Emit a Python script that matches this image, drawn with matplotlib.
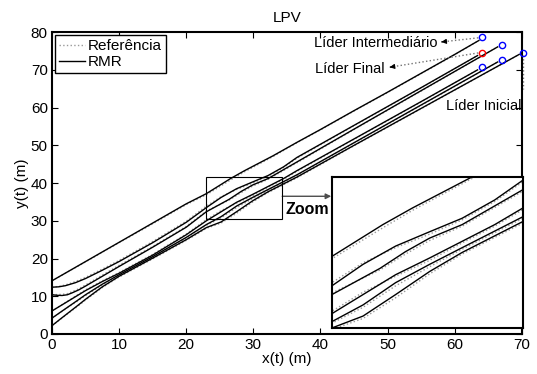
import matplotlib
matplotlib.use('Agg')
import matplotlib.pyplot as plt
from matplotlib.patches import Rectangle

plt.rcParams['font.family'] = ['Liberation Sans', 'DejaVu Sans']

# ---------------- data ----------------
# RMR trajectories (solid)
l1_x = [0, 5, 10, 15, 20, 23, 26.6, 28.7, 32.9, 36.5, 40, 45, 50, 55, 60, 63.6]
l1_y = [14.1, 19.2, 24.3, 29.4, 34.5, 37.2, 41.2, 43.3, 47.2, 50.8, 54.2, 59.2, 64.1, 69.1, 74.1, 77.8]

l2_x = [0, 1, 2, 3.5, 5, 7.5, 10, 15, 20, 23, 25.2, 27.5, 29.9, 32.2, 34.5, 36.5, 45, 55, 63.4]
l2_y = [12.4, 12.5, 12.8, 13.6, 14.7, 16.9, 19.2, 24.2, 29.6, 33.5, 36.2, 38.5, 40.3, 42.0, 44.3, 46.8, 55.3, 65.3, 73.8]

l3_x = [0, 0.8, 1.5, 2.3, 3, 4, 5, 7.5, 10, 15, 20, 23, 26.4, 28.2, 29.9, 32.2, 36.5, 45, 55, 66.4]
l3_y = [10.4, 10.25, 10.2, 10.4, 10.9, 11.7, 12.7, 15.3, 17.9, 23.0, 28.3, 32.4, 35.7, 37.8, 39.5, 41.2, 45.6, 54.3, 64.5, 76.1]

l4_x = [0, 2.5, 5, 7.5, 10, 15, 20, 23, 25.2, 27.5, 29.9, 32.2, 34.5, 36.5, 45, 55, 63.4]
l4_y = [6.1, 8.8, 11.5, 13.9, 16.1, 20.9, 26.3, 30.0, 32.4, 34.9, 37.0, 39.1, 41.2, 43.3, 51.7, 61.6, 70.0]

l5_x = [0, 1.2, 2.5, 3.8, 5, 7.5, 10, 15, 20, 23, 25.2, 27.5, 29.9, 32.2, 36.5, 45, 55, 66.4]
l5_y = [4.2, 5.7, 7.3, 8.9, 10.4, 13.2, 15.7, 20.5, 25.6, 29.0, 31.1, 33.9, 36.2, 38.3, 42.2, 50.7, 60.7, 72.1]

l6_x = [0, 1.2, 2.5, 3.8, 5, 7.5, 10, 15, 20, 23, 25.2, 27.5, 29.9, 32.2, 36.5, 45, 55, 69.6]
l6_y = [2.2, 3.9, 5.7, 7.5, 9.2, 12.5, 15.3, 20.1, 25.0, 28.2, 29.7, 32.4, 35.3, 37.7, 41.6, 50.0, 59.8, 74.1]

# Reference trajectories (dotted)
r1_y = [14.1, 19.1, 24.2, 29.2, 34.3, 36.9, 40.8, 43.0, 47.0, 50.7, 54.1, 59.1, 64.0, 69.0, 74.0, 77.8]
r2_y = [12.4, 12.6, 13.0, 13.9, 15.0, 17.2, 19.5, 24.5, 29.9, 33.9, 36.4, 38.3, 40.0, 41.8, 44.1, 46.6, 55.2, 65.2, 73.8]
r3_y = [10.4, 10.45, 10.5, 10.7, 11.2, 12.0, 13.0, 15.6, 18.2, 23.2, 28.5, 32.6, 35.5, 37.5, 39.2, 41.0, 45.4, 54.2, 64.4, 76.1]
r4_y = [6.1, 8.9, 11.7, 14.1, 16.3, 21.1, 26.5, 30.3, 32.7, 34.7, 36.7, 38.9, 41.0, 43.1, 51.6, 61.5, 70.0]
r5_y = [4.2, 5.6, 7.2, 8.7, 10.2, 13.0, 15.5, 20.3, 25.4, 28.8, 30.8, 33.5, 35.9, 38.1, 42.0, 50.6, 60.6, 72.1]
r6_y = [2.2, 3.8, 5.6, 7.3, 9.0, 12.3, 15.1, 19.9, 24.8, 28.0, 29.4, 32.0, 35.0, 37.5, 41.4, 49.9, 59.7, 74.1]

# Leader positions (markers)
blue_x = [64, 67, 70.1, 67, 64]
blue_y = [78.6, 76.7, 74.6, 72.6, 70.7]
red_x = [64]
red_y = [74.6]

solid = [(l1_x, l1_y), (l2_x, l2_y), (l3_x, l3_y), (l4_x, l4_y), (l5_x, l5_y), (l6_x, l6_y)]
refs = [(l1_x, r1_y), (l2_x, r2_y), (l3_x, r3_y), (l4_x, r4_y), (l5_x, r5_y), (l6_x, r6_y)]

# ---------------- figure ----------------
fig = plt.figure(figsize=(5.37, 3.74), dpi=100)
ax = fig.add_axes([0.0968, 0.107, 0.875, 0.807])

first = True
for xs, ys in refs:
    ax.plot(xs, ys, linestyle=':', color='0.6', lw=1.0,
            label='Referência' if first else None)
    first = False
first = True
for xs, ys in solid:
    ax.plot(xs, ys, '-', color='k', lw=1.0, label='RMR' if first else None)
    first = False

ax.plot(blue_x, blue_y, 'o', mfc='none', mec='blue', ms=4.5, mew=1.0, clip_on=False, zorder=5)
ax.plot(red_x, red_y, 'o', mfc='none', mec='red', ms=4.5, mew=1.0, clip_on=False, zorder=5)

ax.set_xlim(0, 70)
ax.set_ylim(0, 80)
ax.set_xticks(range(0, 71, 10))
ax.set_yticks(range(0, 81, 10))
ax.tick_params(direction='in', top=True, right=True, length=4, width=0.8,
               labelsize=11, pad=3)
for s in ax.spines.values():
    s.set_linewidth(1.5)

ax.set_title('LPV', fontsize=11, pad=7)
ax.set_xlabel('x(t) (m)', fontsize=11, labelpad=0)
ax.set_ylabel('y(t) (m)', fontsize=11, labelpad=1)

leg = ax.legend(loc='upper left', bbox_to_anchor=(0, 1), borderaxespad=0.2,
                fancybox=False, edgecolor='k', framealpha=1, fontsize=11,
                handlelength=1.7, handletextpad=0.2, borderpad=0.25, labelspacing=0.15)
leg.get_frame().set_linewidth(1.0)

# zoom rectangle, arrow and label
ax.add_patch(Rectangle((23, 30.6), 11.3, 10.9, fill=False, ec='k', lw=0.8, zorder=4))
ax.annotate('', xy=(41.6, 36.5), xytext=(34.3, 36.5),
            arrowprops=dict(arrowstyle='-|>', color='0.3', lw=1.0, mutation_scale=8,
                            shrinkA=0, shrinkB=0))
ax.text(38.1, 33.0, 'Zoom', fontsize=11.5, fontweight='bold', ha='center', va='center')

# leader annotations
def dotted_arrow(x0, y0, x1, y1):
    ax.plot([x0, x1], [y0, y1], ':', color='0.45', lw=1.0, clip_on=False)
    dx, dy = x1 - x0, y1 - y0
    ax.annotate('', xy=(x1, y1), xytext=(x1 - 0.02 * dx, y1 - 0.02 * dy),
                arrowprops=dict(arrowstyle='-|>', color='k', lw=0.8,
                                mutation_scale=7, shrinkA=0, shrinkB=0))

dotted_arrow(63.5, 78.5, 58.0, 77.4)
ax.text(57.4, 77.1, 'Líder Intermediário', fontsize=10.5, ha='right', va='center')
dotted_arrow(63.5, 74.5, 50.3, 70.7)
ax.text(49.6, 70.2, 'Líder Final', fontsize=10.5, ha='right', va='center')
dotted_arrow(70.1, 73.9, 70.1, 64.9)
ax.text(69.9, 60.4, 'Líder Inicial', fontsize=10.5, ha='right', va='center')

# inset
axi = fig.add_axes([0.618, 0.123, 0.356, 0.404])
for xs, ys in refs:
    axi.plot(xs, ys, linestyle=':', color='0.6', lw=1.0)
for xs, ys in solid:
    axi.plot(xs, ys, '-', color='k', lw=1.0)
axi.set_xlim(23, 36.5)
axi.set_ylim(28.2, 47.2)
axi.set_xticks([])
axi.set_yticks([])
for s in axi.spines.values():
    s.set_linewidth(1.5)

fig.savefig('out.png', dpi=100)
